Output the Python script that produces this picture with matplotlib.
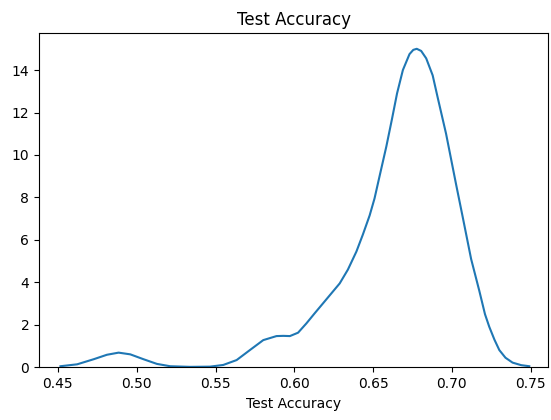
import matplotlib
matplotlib.use("Agg")
import matplotlib.pyplot as plt

# density curve of test accuracy
accuracy = [0.4516, 0.4622, 0.4727, 0.4811, 0.4885, 0.4959, 0.5043, 0.5128,
            0.5212, 0.5339, 0.5465, 0.5549, 0.5634, 0.5718, 0.5803, 0.5887,
            0.5930, 0.5972, 0.6024, 0.6077, 0.6130, 0.6182, 0.6235, 0.6288,
            0.6340, 0.6394, 0.6435, 0.6478, 0.6509, 0.6541, 0.6584, 0.6620,
            0.6652, 0.6689, 0.6731, 0.6755, 0.6777, 0.6805, 0.6837, 0.6878,
            0.6910, 0.6963, 0.7027, 0.7068, 0.7122, 0.7174, 0.7210, 0.7237,
            0.7270, 0.7301, 0.7340, 0.7385, 0.7440, 0.7491]
density = [0.05, 0.14, 0.38, 0.59, 0.69, 0.61, 0.38, 0.16,
           0.05, 0.02, 0.03, 0.11, 0.34, 0.81, 1.28, 1.47,
           1.48, 1.47, 1.63, 2.07, 2.55, 3.01, 3.48, 3.95,
           4.60, 5.45, 6.25, 7.15, 7.95, 9.00, 10.40, 11.70,
           12.90, 14.00, 14.75, 14.95, 15.00, 14.90, 14.55, 13.75,
           12.70, 11.00, 8.60, 7.10, 5.10, 3.60, 2.50, 1.91,
           1.30, 0.81, 0.45, 0.22, 0.10, 0.05]

fig = plt.figure(figsize=(5.51, 4.2), dpi=100)
ax = fig.add_axes([0.0708, 0.1255, 0.9238, 0.7952])

ax.plot(accuracy, density, color="#1f77b4", linewidth=1.5)

ax.set_xlim(0.438, 0.761)
ax.set_ylim(0, 15.73)
ax.set_xticks([0.45, 0.50, 0.55, 0.60, 0.65, 0.70, 0.75])
ax.set_xticklabels(["0.45", "0.50", "0.55", "0.60", "0.65", "0.70", "0.75"])
ax.set_yticks([0, 2, 4, 6, 8, 10, 12, 14])
ax.set_title("Test Accuracy")
ax.set_xlabel("Test Accuracy")

fig.savefig("out.png", dpi=100)
